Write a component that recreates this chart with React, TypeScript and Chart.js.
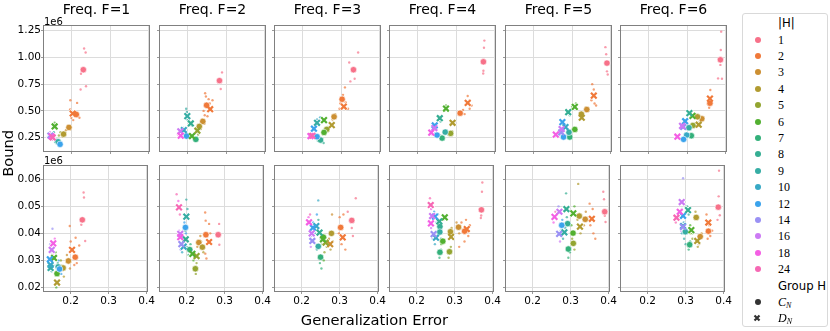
import React, { useEffect, useRef } from "react";
import { Chart, registerables } from "chart.js";
Chart.register(...registerables);

type Mean = [number, "C" | "D", number, number];
type Pt = [number, number, number];

// ---------- categories / labels ----------
const hValues = [1, 2, 3, 4, 5, 6, 7, 8, 9, 10, 12, 14, 16, 18, 24];
const hColors = ["#f77189", "#f0793a", "#cc8f32", "#b19b31", "#93a531", "#52b031", "#33b07a", "#35ae93", "#36ada4", "#38a9c5", "#3ba3ec", "#9a91f4", "#cc7af4", "#f45fe4", "#f668b4"];
const freqs = [1, 2, 3, 4, 5, 6];
const xTicks = [0.2, 0.3, 0.4];
const yTicksTop = [0.25, 0.5, 0.75, 1.0, 1.25];
const yTicksBottom = [0.02, 0.03, 0.04, 0.05, 0.06];
const xRange = [0.127, 0.403];
const yRangeTop = [0.116, 1.303];
const yRangeBottom = [0.0183, 0.0653];

// ---------- group means [|H|, group, gen. error, bound (1e6)] ----------
const topMeansF1: Mean[] = [[1,"C",.231,.885],[2,"C",.213,.467],[2,"D",.2035,.476],[3,"C",.194,.346],[4,"C",.180,.283],[6,"D",.157,.355],[9,"C",.166,.212],[12,"C",.171,.188],[14,"D",.146,.27],[18,"D",.149,.262],[24,"D",.152,.252]];
const topMeansF2: Mean[] = [[1,"C",.283,.783],[2,"C",.2497,.553],[2,"D",.259,.516],[3,"C",.240,.402],[4,"C",.231,.355],[5,"D",.226,.315],[6,"D",.212,.265],[7,"C",.222,.234],[8,"D",.209,.383],[9,"D",.200,.451],[12,"C",.198,.265],[10,"D",.191,.321],[16,"D",.182,.31],[18,"D",.183,.268]];
const topMeansF3: Mean[] = [[1,"C",.332,.885],[2,"C",.3027,.609],[2,"D",.307,.541],[3,"C",.282,.445],[4,"D",.276,.367],[5,"C",.263,.327],[6,"C",.256,.299],[6,"D",.256,.414],[8,"C",.247,.228],[9,"D",.238,.389],[12,"D",.230,.334],[12,"C",.238,.259],[18,"D",.221,.265],[24,"D",.226,.268]];
const topMeansF4: Mean[] = [[1,"C",.3705,.959],[2,"C",.3105,.479],[2,"D",.330,.575],[4,"D",.291,.389],[5,"C",.286,.29],[6,"D",.274,.522],[7,"C",.264,.246],[8,"D",.258,.432],[9,"C",.272,.302],[12,"C",.251,.274],[12,"D",.245,.364],[16,"D",.244,.34],[18,"D",.236,.297]];
const topMeansF5: Mean[] = [[1,"C",.390,.947],[2,"D",.356,.643],[3,"C",.338,.513],[4,"C",.324,.47],[4,"D",.325,.436],[6,"D",.307,.538],[6,"C",.307,.327],[7,"C",.294,.256],[8,"D",.290,.488],[9,"C",.292,.30],[10,"D",.283,.349],[12,"D",.275,.395],[12,"C",.278,.256],[14,"D",.272,.30],[16,"D",.273,.33],[18,"D",.258,.278]];
const topMeansF6: Mean[] = [[1,"C",.386,.978],[2,"C",.359,.572],[2,"D",.359,.615],[3,"C",.338,.427],[4,"C",.327,.445],[4,"D",.330,.371],[5,"C",.315,.364],[6,"D",.314,.454],[7,"C",.311,.268],[8,"D",.306,.479],[9,"C",.305,.343],[10,"C",.299,.274],[12,"C",.291,.234],[12,"D",.295,.404],[14,"D",.29,.35],[16,"D",.287,.36],[18,"D",.275,.259]];

const botMeansF1: Mean[] = [[1,"C",.2306,.0450],[2,"C",.212,.0312],[2,"D",.2035,.0339],[3,"C",.194,.0298],[4,"C",.180,.0272],[4,"D",.164,.0218],[6,"C",.164,.0251],[6,"D",.156,.0309],[9,"C",.167,.0276],[12,"C",.1706,.0268],[9,"D",.147,.0272],[10,"D",.147,.0283],[12,"D",.145,.0304],[16,"D",.150,.0339],[18,"D",.154,.0363]];
const botMeansF2: Mean[] = [[1,"C",.283,.0395],[2,"C",.2506,.0395],[2,"D",.259,.0368],[3,"C",.232,.0366],[4,"C",.2413,.0349],[5,"D",.226,.0316],[5,"C",.2228,.0269],[6,"D",.215,.0324],[7,"C",.208,.0340],[8,"D",.1975,.0378],[9,"D",.199,.0462],[12,"C",.1967,.0422],[10,"D",.192,.0351],[14,"D",.186,.0360],[16,"D",.183,.0398],[18,"D",.183,.0386],[24,"D",.1797,.0496]];
const botMeansF3: Mean[] = [[1,"C",.332,.0448],[2,"C",.3027,.0422],[2,"D",.308,.0385],[3,"D",.275,.0360],[4,"C",.2784,.0400],[5,"D",.263,.0366],[6,"D",.256,.0378],[6,"C",.257,.0386],[7,"C",.2497,.0312],[9,"C",.2437,.0352],[8,"D",.247,.0403],[10,"D",.2385,.0427],[12,"D",.2296,.0421],[14,"D",.228,.0372],[16,"D",.2263,.0400],[18,"D",.2193,.0441]];
const botMeansF4: Mean[] = [[1,"C",.3705,.0487],[2,"C",.3262,.0408],[2,"D",.332,.0416],[3,"C",.3102,.0423],[4,"C",.289,.0406],[4,"D",.2906,.0387],[5,"C",.2864,.0332],[6,"D",.274,.0459],[6,"C",.2688,.0371],[7,"C",.2612,.0330],[8,"D",.2596,.0444],[8,"C",.2612,.0425],[9,"C",.261,.0405],[10,"D",.2508,.0384],[12,"D",.2483,.0462],[14,"D",.2446,.0397],[16,"D",.2406,.0464],[18,"D",.2375,.0437],[24,"D",.2370,.0505]];
const botMeansF5: Mean[] = [[1,"C",.3898,.0480],[2,"D",.3559,.0454],[3,"C",.3384,.0452],[4,"C",.3228,.0464],[4,"D",.3245,.0425],[6,"D",.307,.0474],[6,"C",.3063,.0401],[5,"C",.307,.0363],[7,"C",.2940,.0342],[8,"C",.2922,.0436],[8,"D",.2888,.0490],[9,"D",.2835,.0404],[12,"C",.2766,.0430],[14,"D",.2697,.0398],[16,"D",.2705,.0480],[18,"D",.2575,.0461]];
const botMeansF6: Mean[] = [[1,"C",.386,.0497],[2,"D",.3597,.0440],[2,"C",.360,.0408],[3,"C",.3384,.0388],[4,"C",.3279,.0459],[4,"D",.3306,.0372],[6,"D",.315,.0412],[7,"C",.3106,.0358],[8,"D",.3062,.0486],[9,"C",.2992,.0406],[10,"D",.2932,.0427],[12,"D",.2932,.0465],[14,"D",.293,.0424],[16,"D",.2897,.0516],[18,"D",.2845,.0480],[24,"D",.2758,.0458]];

// ---------- individual runs [gen. error, bound (1e6), |H|] ----------
const topPtsF1: Pt[] = [[.233,1.083,1],[.237,1.046,1],[.225,.848,1],[.224,.70,1],[.238,.73,1],[.1975,.599,2],[.197,.513,2],[.215,.575,2],[.200,.436,2],[.205,.414,2],[.221,.436,2],[.19,.36,3],[.198,.33,3],[.186,.32,3],[.178,.26,4],[.184,.30,4],[.172,.30,5],[.168,.27,5],[.157,.39,6],[.162,.33,6],[.168,.22,7],[.162,.23,8],[.155,.30,9],[.15,.25,10],[.158,.21,9],[.165,.19,12],[.175,.2,12],[.142,.28,14],[.145,.3,16],[.148,.24,14],[.140,.26,16],[.143,.25,18],[.152,.23,24]];
const topPtsF2: Pt[] = [[.2896,.86,1],[.2862,.705,1],[.246,.665,2],[.248,.635,2],[.255,.61,2],[.265,.6,2],[.245,.46,2],[.252,.45,2],[.242,.5,2],[.258,.57,2],[.238,.42,3],[.244,.38,3],[.234,.37,3],[.228,.34,4],[.235,.33,4],[.222,.30,5],[.228,.28,5],[.208,.28,6],[.214,.25,6],[.218,.22,7],[.225,.25,7],[.204,.40,8],[.212,.36,8],[.199,.49,9],[.2,.42,9],[.197,.52,9],[.19,.34,10],[.186,.3,10],[.195,.28,12],[.2,.25,12],[.178,.33,14],[.182,.29,16],[.18,.25,18],[.176,.28,24],[.186,.26,18]];
const topPtsF3: Pt[] = [[.344,1.046,1],[.321,.953,1],[.335,.80,1],[.324,.776,1],[.31,.72,2],[.305,.65,2],[.296,.52,2],[.318,.52,2],[.298,.57,2],[.312,.58,2],[.285,.47,3],[.278,.42,3],[.28,.39,4],[.272,.35,4],[.266,.35,5],[.258,.31,5],[.26,.42,6],[.252,.4,6],[.25,.21,7],[.242,.24,7],[.24,.22,8],[.255,.2,8],[.234,.40,9],[.242,.37,9],[.238,.42,10],[.246,.44,10],[.232,.30,12],[.236,.27,12],[.225,.29,14],[.228,.27,16],[.218,.26,18],[.224,.25,24]];
const topPtsF4: Pt[] = [[.373,1.157,1],[.372,1.09,1],[.3705,.875,1],[.37,.85,1],[.33,.64,2],[.335,.6,2],[.325,.56,2],[.34,.55,2],[.318,.51,2],[.335,.52,2],[.322,.47,2],[.296,.40,4],[.286,.38,4],[.29,.31,5],[.28,.3,5],[.274,.55,6],[.27,.5,6],[.268,.23,7],[.26,.27,7],[.255,.45,8],[.26,.4,8],[.275,.32,9],[.28,.28,9],[.246,.29,12],[.252,.26,12],[.24,.32,16],[.242,.36,14],[.232,.29,18],[.236,.31,24],[.238,.28,18]];
const topPtsF5: Pt[] = [[.386,1.096,1],[.388,1.03,1],[.39,.87,1],[.392,.84,1],[.352,.75,2],[.356,.7,2],[.36,.66,2],[.35,.6,2],[.358,.57,2],[.362,.55,2],[.335,.53,3],[.342,.5,3],[.32,.45,4],[.328,.42,4],[.31,.57,6],[.3,.54,6],[.312,.32,6],[.296,.24,7],[.29,.27,7],[.288,.5,8],[.294,.46,8],[.28,.36,10],[.286,.34,10],[.272,.41,12],[.276,.26,12],[.268,.31,14],[.276,.32,16],[.255,.28,18],[.262,.27,24]];
const topPtsF6: Pt[] = [[.388,1.241,1],[.387,1.07,1],[.39,.80,1],[.38,.804,1],[.386,.93,1],[.36,.696,2],[.357,.53,2],[.364,.6,2],[.354,.56,2],[.342,.44,3],[.334,.42,3],[.33,.39,4],[.324,.45,4],[.318,.37,5],[.31,.36,5],[.31,.48,6],[.316,.44,6],[.314,.26,7],[.306,.28,7],[.302,.49,8],[.308,.46,8],[.3,.35,9],[.308,.33,9],[.296,.29,10],[.302,.27,10],[.29,.22,12],[.294,.25,12],[.285,.34,14],[.29,.37,16],[.272,.27,18],[.278,.25,24]];

const botPtsF1: Pt[] = [[.234,.0551,1],[.235,.0533,1],[.228,.0432,1],[.2382,.0372,1],[.1975,.0427,2],[.213,.0384,2],[.2225,.0355,2],[.2095,.0283,2],[.2,.037,2],[.216,.029,2],[.19,.032,3],[.198,.027,3],[.182,.024,4],[.176,.028,4],[.174,.030,5],[.166,.027,5],[.16,.033,6],[.162,.02,6],[.17,.026,7],[.166,.029,8],[.15,.026,9],[.155,.028,10],[.175,.025,12],[.168,.03,12],[.152,.0417,14],[.148,.033,16],[.146,.036,14],[.158,.038,18],[.152,.032,24]];
const botPtsF2: Pt[] = [[.2855,.0435,1],[.286,.0358,1],[.2487,.0477,2],[.25,.0447,2],[.259,.0435,2],[.249,.0325,2],[.252,.0307,2],[.262,.04,2],[.236,.039,3],[.228,.035,3],[.244,.033,4],[.238,.037,4],[.224,.025,5],[.226,.029,5],[.218,.03,6],[.212,.034,6],[.205,.032,7],[.21,.036,7],[.196,.041,8],[.2,.035,8],[.199,.0525,9],[.202,.049,9],[.188,.033,10],[.19,.037,10],[.194,.044,12],[.198,.04,12],[.184,.034,14],[.18,.041,16],[.1734,.0545,24],[.178,.052,18],[.182,.047,24]];
const botPtsF3: Pt[] = [[.3425,.0530,1],[.3213,.048,1],[.332,.042,1],[.335,.039,1],[.3,.046,2],[.31,.047,2],[.305,.036,2],[.315,.034,2],[.298,.04,2],[.28,.047,3],[.272,.038,3],[.282,.037,4],[.276,.034,4],[.266,.035,5],[.26,.033,5],[.254,.036,6],[.258,.03,6],[.248,.029,7],[.252,.027,7],[.244,.045,8],[.25,.038,8],[.2437,.0522,10],[.24,.034,9],[.235,.04,10],[.24,.047,12],[.23,.044,12],[.226,.039,14],[.224,.035,16],[.222,.038,14],[.218,.046,18],[.222,.047,24]];
const botPtsF4: Pt[] = [[.373,.0588,1],[.372,.0554,1],[.37,.0466,1],[.369,.0457,1],[.318,.044,2],[.326,.037,2],[.336,.039,2],[.34,.043,2],[.312,.035,2],[.33,.045,2],[.305,.044,3],[.312,.04,3],[.286,.038,4],[.292,.042,4],[.284,.031,5],[.29,.035,5],[.27,.045,6],[.265,.036,6],[.26,.031,7],[.264,.034,7],[.256,.047,8],[.262,.043,8],[.258,.04,9],[.264,.038,9],[.248,.036,10],[.252,.04,10],[.246,.048,12],[.252,.044,12],[.242,.038,14],[.238,.042,16],[.235,.053,24],[.238,.049,18],[.232,.044,16]];
const botPtsF5: Pt[] = [[.386,.0554,1],[.388,.0526,1],[.39,.0465,1],[.392,.0442,1],[.35,.051,2],[.358,.049,2],[.36,.04,2],[.365,.038,2],[.352,.043,2],[.335,.043,3],[.34,.048,3],[.32,.0583,4],[.326,.04,4],[.318,.045,4],[.31,.034,5],[.304,.038,5],[.31,.05,6],[.302,.043,6],[.294,.031,7],[.298,.033,7],[.288,.0548,8],[.29,.046,8],[.28,.038,9],[.286,.042,9],[.274,.041,12],[.278,.045,12],[.268,.05,14],[.272,.037,16],[.255,.044,18],[.26,.048,24]];
const botPtsF6: Pt[] = [[.388,.0632,1],[.387,.0537,1],[.39,.0467,1],[.384,.045,1],[.355,.047,2],[.362,.043,2],[.365,.039,2],[.358,.038,2],[.37,.041,2],[.335,.036,3],[.342,.04,3],[.326,.048,4],[.332,.035,4],[.318,.038,5],[.312,.04,5],[.312,.043,6],[.318,.04,6],[.308,.034,7],[.312,.037,7],[.304,.05,8],[.308,.047,8],[.296,.038,9],[.3,.036,9],[.29,.04,10],[.295,.044,10],[.29,.049,12],[.292,.046,12],[.2932,.0604,14],[.288,.041,16],[.28,.047,18],[.274,.044,24]];

const meansByRow = [
  [topMeansF1, topMeansF2, topMeansF3, topMeansF4, topMeansF5, topMeansF6],
  [botMeansF1, botMeansF2, botMeansF3, botMeansF4, botMeansF5, botMeansF6],
];
const ptsByRow = [
  [topPtsF1, topPtsF2, topPtsF3, topPtsF4, topPtsF5, topPtsF6],
  [botPtsF1, botPtsF2, botPtsF3, botPtsF4, botPtsF5, botPtsF6],
];

// ---------- layout ----------
const panelLefts = [43, 159, 274, 389, 505, 620];
const panelTops = [25, 165];
const panelW = 107;
const panelH = 127;
const padL = 40, padT = 10, padR = 6, padB = 20;
const FONT = "'DejaVu Sans', sans-serif";

const colorOf = (h: number) => hColors[hValues.indexOf(h)];
const withAlpha = (hex: string, a: number) => {
  const n = parseInt(hex.slice(1), 16);
  return `rgba(${(n >> 16) & 255},${(n >> 8) & 255},${n & 255},${a})`;
};

const framePlugin = {
  id: "frame",
  afterDraw(chart: any) {
    const { ctx, chartArea: a } = chart;
    ctx.save();
    ctx.strokeStyle = "#808080";
    ctx.lineWidth = 1;
    ctx.strokeRect(Math.round(a.left) + 0.5, Math.round(a.top) + 0.5, Math.round(a.right - a.left) - 1, Math.round(a.bottom - a.top) - 1);
    ctx.restore();
  },
};

function Panel({ row, col }: { row: number; col: number }) {
  const ref = useRef<HTMLCanvasElement>(null);
  useEffect(() => {
    const means = meansByRow[row][col];
    const pts = ptsByRow[row][col];
    const cMeans = means.filter((m) => m[1] === "C");
    const dMeans = means.filter((m) => m[1] === "D");
    const yRange = row === 0 ? yRangeTop : yRangeBottom;
    const yTicks = row === 0 ? yTicksTop : yTicksBottom;
    const chart = new Chart(ref.current as HTMLCanvasElement, {
      type: "scatter",
      data: {
        datasets: [
          {
            data: pts.map((p) => ({ x: p[0], y: p[1] })),
            backgroundColor: pts.map((p) => withAlpha(colorOf(p[2]), 0.7)),
            borderWidth: 0,
            pointRadius: 1.2,
            order: 4,
          },
          {
            data: dMeans.map((m) => ({ x: m[2], y: m[3] })),
            pointStyle: "crossRot",
            borderColor: "#ffffff",
            borderWidth: 3.6,
            pointRadius: 4.4,
            order: 3,
          },
          {
            data: cMeans.map((m) => ({ x: m[2], y: m[3] })),
            backgroundColor: cMeans.map((m) => colorOf(m[0])),
            borderColor: "#ffffff",
            borderWidth: 0.6,
            pointRadius: 3.2,
            order: 2,
          },
          {
            data: dMeans.map((m) => ({ x: m[2], y: m[3] })),
            pointStyle: "crossRot",
            borderColor: dMeans.map((m) => colorOf(m[0])),
            borderWidth: 2.2,
            pointRadius: 4,
            order: 1,
          },
        ] as any,
      },
      options: {
        animation: false,
        responsive: false,
        devicePixelRatio: 1,
        events: [],
        layout: { padding: { left: 0, top: padT, right: padR, bottom: 0 }, autoPadding: false } as any,
        plugins: { legend: { display: false }, tooltip: { enabled: false }, title: { display: false } },
        scales: {
          x: {
            type: "linear",
            min: xRange[0],
            max: xRange[1],
            afterBuildTicks: (s: any) => { s.ticks = xTicks.map((v) => ({ value: v })); },
            afterFit: (s: any) => { s.height = padB; },
            border: { display: false },
            grid: { color: "#dcdcdc", lineWidth: 1, drawTicks: true, tickLength: 2, tickColor: "#9a9a9a" },
            ticks: {
              display: row === 1,
              autoSkip: false,
              maxRotation: 0,
              padding: 1,
              color: "#000",
              font: { family: FONT, size: 10.5 },
              callback: (v: any) => Number(v).toFixed(1),
            },
          },
          y: {
            type: "linear",
            min: yRange[0],
            max: yRange[1],
            afterBuildTicks: (s: any) => { s.ticks = yTicks.map((v) => ({ value: v })); },
            afterFit: (s: any) => { s.width = padL; },
            border: { display: false },
            grid: { color: "#dcdcdc", lineWidth: 1, drawTicks: true, tickLength: 2, tickColor: "#9a9a9a" },
            ticks: {
              display: col === 0,
              autoSkip: false,
              padding: 0,
              color: "#000",
              font: { family: FONT, size: 10.5 },
              callback: (v: any) => Number(v).toFixed(2),
            },
          },
        },
      } as any,
      plugins: [framePlugin],
    });
    return () => chart.destroy();
  }, [row, col]);
  const w = panelW + padL + padR;
  const h = panelH + padT + padB;
  return (
    <canvas
      ref={ref}
      width={w}
      height={h}
      style={{ position: "absolute", left: panelLefts[col] - padL, top: panelTops[row] - padT, width: w, height: h }}
    />
  );
}

function XMark({ color }: { color: string }) {
  return (
    <svg width={8} height={8} style={{ position: "absolute", left: 753, top: -4 }}>
      <path d="M1.5 1.5L6.5 6.5M6.5 1.5L1.5 6.5" stroke={color} strokeWidth={2.2} />
    </svg>
  );
}

export default function App() {
  const legendRowY = (i: number) => 39.5 + i * 16.4;
  return (
    <div style={{ position: "absolute", left: 0, top: 0, width: 830, height: 331, background: "#fff", overflow: "hidden", fontFamily: FONT, color: "#000" }}>
      {[0, 1].map((r) => freqs.map((f, c) => <Panel key={`${r}-${c}`} row={r} col={c} />))}
      {freqs.map((f, c) => (
        <div key={f} style={{ position: "absolute", left: panelLefts[c], top: 1.5, width: panelW, textAlign: "center", fontSize: 14, lineHeight: "14px", whiteSpace: "nowrap" }}>
          {`Freq. F=${f}`}
        </div>
      ))}
      <div style={{ position: "absolute", left: 44, top: 16.5, fontSize: 10, lineHeight: "10px" }}>1e6</div>
      <div style={{ position: "absolute", left: 44, top: 156, fontSize: 10, lineHeight: "10px" }}>1e6</div>
      <div style={{ position: "absolute", left: 274.5, top: 313.3, width: 200, textAlign: "center", fontSize: 14.7, lineHeight: "14.7px", whiteSpace: "nowrap" }}>
        Generalization Error
      </div>
      <div style={{ position: "absolute", left: 7.9 - 40, top: 153.5 - 7.35, width: 80, height: 14.7, textAlign: "center", fontSize: 14.7, lineHeight: "14.7px", transform: "rotate(-90deg)" }}>
        Bound
      </div>
      {/* legend */}
      <div style={{ position: "absolute", left: 742, top: 13, width: 86, height: 314, border: "1px solid #d9d9d9", borderRadius: 3, boxSizing: "border-box" }} />
      <div style={{ position: "absolute", left: 778, top: 22.5 - 7, fontSize: 11.7, lineHeight: "14px" }}>|H|</div>
      {hValues.map((h, i) => (
        <div key={h}>
          <div style={{ position: "absolute", left: 754.5, top: legendRowY(i) - 3, width: 6, height: 6, borderRadius: 3, background: hColors[i] }} />
          <div style={{ position: "absolute", left: 778, top: legendRowY(i) - 7, fontSize: 12, lineHeight: "14px", fontFamily: "'Liberation Serif', serif" }}>{h}</div>
        </div>
      ))}
      <div style={{ position: "absolute", left: 778, top: legendRowY(15) - 7, fontSize: 11.7, lineHeight: "14px", whiteSpace: "nowrap" }}>Group H</div>
      <div style={{ position: "absolute", left: 754.5, top: legendRowY(16) - 3, width: 6, height: 6, borderRadius: 3, background: "#333" }} />
      <div style={{ position: "absolute", left: 778, top: legendRowY(16) - 7, fontSize: 12, lineHeight: "14px", fontFamily: "'Liberation Serif', serif", fontStyle: "italic" }}>
        C<sub style={{ fontSize: 8, verticalAlign: "-2px" }}>N</sub>
      </div>
      <div style={{ position: "absolute", left: 0, top: legendRowY(17) }}>
        <XMark color="#333" />
      </div>
      <div style={{ position: "absolute", left: 778, top: legendRowY(17) - 7, fontSize: 12, lineHeight: "14px", fontFamily: "'Liberation Serif', serif", fontStyle: "italic" }}>
        D<sub style={{ fontSize: 8, verticalAlign: "-2px" }}>N</sub>
      </div>
    </div>
  );
}
